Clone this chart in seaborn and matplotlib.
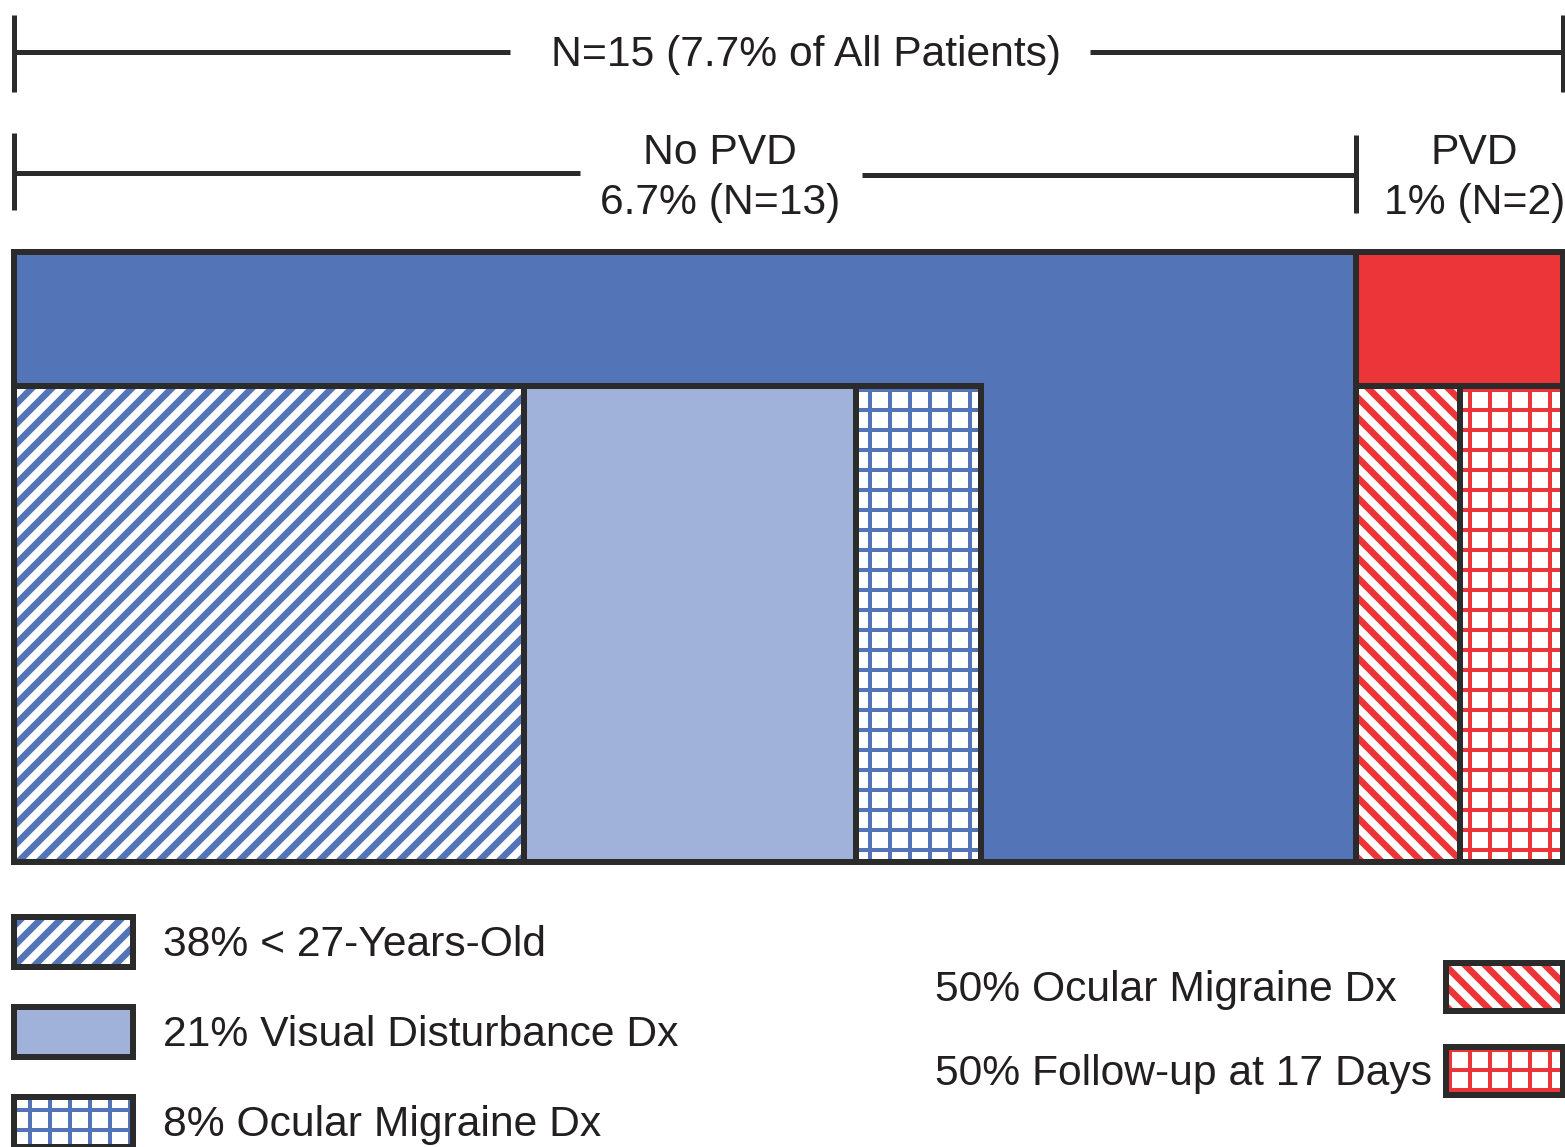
import numpy as np
import pandas as pd
import matplotlib
matplotlib.use("Agg")
import matplotlib.pyplot as plt
from matplotlib.patches import Rectangle
import seaborn as sns

# ---------------- data ----------------
total_label = "N=15 (7.7% of All Patients)"
groups = ["No PVD", "PVD"]
group_n = [13, 2]
group_pct_labels = ["6.7% (N=13)", "1% (N=2)"]

nopvd_sub_labels = ["38% < 27-Years-Old", "21% Visual Disturbance Dx", "8% Ocular Migraine Dx"]
nopvd_sub_share = [0.38, 0.247, 0.093]      # width share inside the No PVD block
pvd_sub_labels = ["50% Ocular Migraine Dx", "50% Follow-up at 17 Days"]
pvd_sub_share = [0.50, 0.50]
sub_height = 0.78                           # height share of the sub-blocks

# ---------------- style ----------------
W, H, DPI = 1565, 1147, 120
BLUE = "#5375b7"
RED = "#ec3538"
DARK = "#2b2b2b"
CHECK = "#a0b2d9"
TXT = "#231f20"
FS = 25.6
LW = 3.6
HLW_DIAG = 4.0
HLW_GRID = 2.4

sns.set_theme(style="white")
plt.rcParams["font.family"] = ["Liberation Sans", "DejaVu Sans"]
plt.rcParams["hatch.linewidth"] = HLW_DIAG

fig = plt.figure(figsize=(W / DPI, H / DPI), dpi=DPI, facecolor="white")
ax = fig.add_axes([14 / W, 1 - 862 / H, 1549 / W, 610 / H])
ax.set_xlim(0, 1)
ax.set_ylim(0, 1)
ax.axis("off")

total = sum(group_n)
gw = np.array(group_n) / total
gl = np.concatenate([[0], np.cumsum(gw)[:-1]])

# top-level blocks
ax.bar(gl, [1, 1], width=gw, align="edge", color=[BLUE, RED],
       edgecolor=DARK, linewidth=LW, clip_on=False, zorder=1)


def set_hlw(patch, hatch):
    if hasattr(patch, "set_hatch_linewidth"):
        patch.set_hatch_linewidth(HLW_GRID if hatch and "+" in hatch else HLW_DIAG)


def hatched(lefts, widths, faces, hatches, hcolor):
    bars = ax.bar(lefts, [sub_height] * len(lefts), width=widths, align="edge",
                  color=faces, edgecolor=hcolor, linewidth=0, clip_on=False, zorder=2)
    for b, h in zip(bars, hatches):
        if h:
            b.set_hatch(h)
            set_hlw(b, h)
    ax.bar(lefts, [sub_height] * len(lefts), width=widths, align="edge",
           fill=False, edgecolor=DARK, linewidth=LW, clip_on=False, zorder=3)


nw = np.array(nopvd_sub_share) * gw[0]
nl = gl[0] + np.concatenate([[0], np.cumsum(nw)[:-1]])
hatched(nl, nw, ["white", CHECK, "white"], ["//", None, "+"], BLUE)

pw = np.array(pvd_sub_share) * gw[1]
pl = gl[1] + np.concatenate([[0], np.cumsum(pw)[:-1]])
hatched(pl, pw, ["white", "white"], ["\\\\", "+"], RED)

# ---------------- brackets ----------------
def yf(p):
    return (862 - p) / 610


BL = 3.0
kw = dict(color=DARK, lw=BL, clip_on=False, solid_capstyle="butt")
# total bracket
ax.plot([0, 0], [yf(15), yf(92)], **kw)
ax.plot([1, 1], [yf(15), yf(92)], **kw)
ax.plot([0, 0.320], [yf(52), yf(52)], **kw)
ax.plot([0.6947, 1], [yf(52), yf(52)], **kw)
ax.text(0.511, yf(55), total_label, ha="center", va="center", fontsize=FS, color=TXT)

# group bracket
ax.plot([0, 0], [yf(133), yf(210)], **kw)
ax.plot([gw[0], gw[0]], [yf(135), yf(213)], **kw)
ax.plot([0, 0.3654], [yf(173), yf(173)], **kw)
ax.plot([0.5474, gw[0]], [yf(175), yf(175)], **kw)
ax.text(0.4558, yf(153), groups[0], ha="center", va="center", fontsize=FS, color=TXT)
ax.text(0.4558, yf(203), group_pct_labels[0], ha="center", va="center", fontsize=FS, color=TXT)
ax.text(0.943, yf(153), groups[1], ha="center", va="center", fontsize=FS, color=TXT)
ax.text(0.943, yf(203), group_pct_labels[1], ha="center", va="center", fontsize=FS, color=TXT)


# ---------------- legend (manual) ----------------
def legend_box(x0, y0, w, h, face, hatch, hcolor):
    r1 = Rectangle((x0 / W, 1 - (y0 + h) / H), w / W, h / H, transform=fig.transFigure,
                   facecolor=face, edgecolor=hcolor, linewidth=0, hatch=hatch)
    set_hlw(r1, hatch)
    r2 = Rectangle((x0 / W, 1 - (y0 + h) / H), w / W, h / H, transform=fig.transFigure,
                   fill=False, edgecolor=DARK, linewidth=LW)
    fig.add_artist(r1)
    fig.add_artist(r2)


left_faces = ["white", CHECK, "white"]
left_hatch = ["//", None, "+"]
for i, lab in enumerate(nopvd_sub_labels):
    yc = 942 + 90 * i
    legend_box(14, yc - 25, 119, 50, left_faces[i], left_hatch[i], BLUE)
    fig.text(163 / W, 1 - (yc + 3) / H, lab, ha="left", va="center", fontsize=FS, color=TXT)

right_hatch = ["\\\\", "+"]
for i, lab in enumerate(pvd_sub_labels):
    yc = 987 + 84 * i
    legend_box(1446, yc - 24, 117, 48, "white", right_hatch[i], RED)
    fig.text(935 / W, 1 - (yc + 3) / H, lab, ha="left", va="center", fontsize=FS, color=TXT)

fig.savefig("out.png", dpi=DPI, facecolor="white")
